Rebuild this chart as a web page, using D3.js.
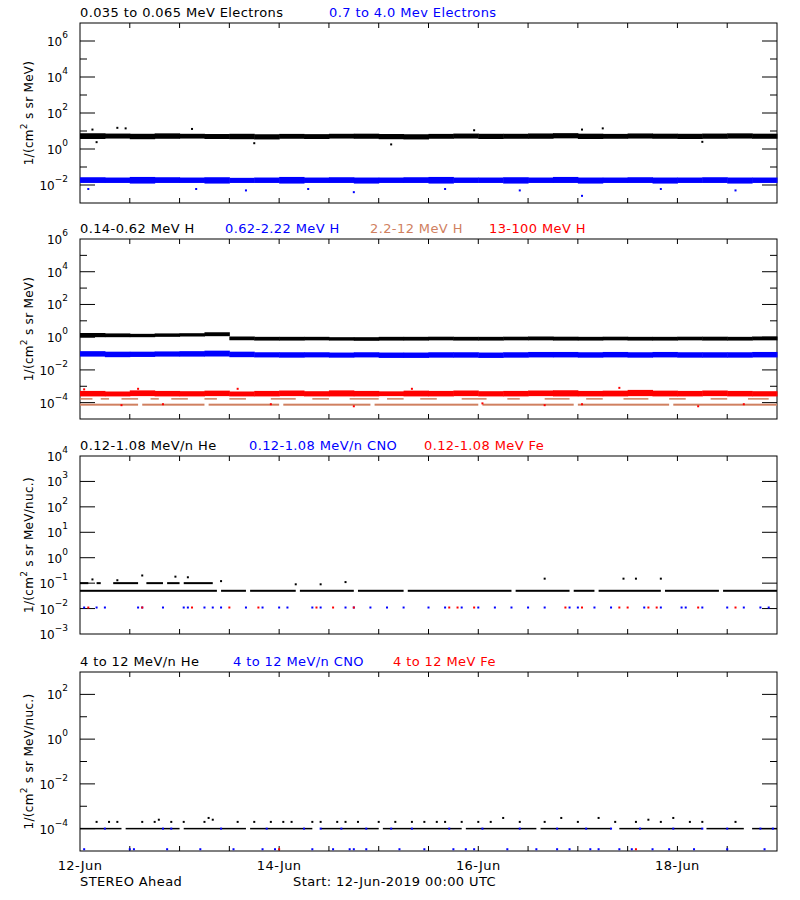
<!DOCTYPE html>
<meta charset="utf-8">
<script src="https://cdn.jsdelivr.net/npm/d3@7"></script>
<style>
  body { margin: 0; background: #fff; }
  text { font-family: "DejaVu Sans", sans-serif; font-size: 13px; letter-spacing: 0.4px; }
  .tick-label { font-size: 12px; letter-spacing: 0; }
  .ytitle { font-size: 12px; letter-spacing: 0.3px; }
</style>
<body>
<div id="chart"></div>
<script>
// hours since 12-Jun-2019 00:00, band samples every 6 h
var bandHours = [0,6,12,18,24,30,36,42,48,54,60,66,72,78,84,90,96,102,108,114,120,126,132,138,144,150,156,162,168]

// panel 1 electrons
var e1Lo = [3.6,3.8,3.5,3.7,3.8,3.6,3.5,3.4,3.7,3.6,3.8,3.7,3.5,3.4,3.7,3.8,3.6,3.7,3.7,3.9,3.6,3.7,3.8,3.7,3.6,3.7,3.8,3.7,3.6]
var e1Hi = [7.5,7.2,7.0,7.4,7.0,6.8,7.0,6.6,6.9,6.7,7.0,7.1,6.8,6.6,6.9,7.2,7.0,7.0,7.3,7.6,7.1,6.9,7.3,7.1,7.0,7.2,7.4,7.1,7.0]
var e1Out = [[3,12],[9,15],[11,14],[27,13],[4,2.4],[42,2.1],[75,1.8],[95,11],[121,12],[126,14],[150,2.5]]
var e2Lo = [0.013,0.013,0.012,0.013,0.013,0.012,0.013,0.013,0.012,0.013,0.013,0.012,0.013,0.013,0.012,0.013,0.013,0.012,0.013,0.013,0.012,0.013,0.013,0.012,0.013,0.013,0.012,0.013,0.013]
var e2Hi = [0.027,0.026,0.028,0.027,0.026,0.027,0.025,0.026,0.028,0.026,0.027,0.026,0.026,0.027,0.028,0.026,0.026,0.027,0.026,0.028,0.026,0.026,0.027,0.026,0.026,0.027,0.026,0.026,0.027]
var e2Out = [[2,0.006],[28,0.006],[40,0.005],[55,0.006],[66,0.004],[88,0.006],[106,0.005],[121,0.0025],[140,0.006],[158,0.005]]

// panel 2 protons
var h1Lo = [1.0,1.0,1.0,1.05,1.1,1.15,0.65,0.62,0.62,0.64,0.62,0.6,0.62,0.62,0.64,0.62,0.62,0.64,0.64,0.62,0.62,0.64,0.62,0.62,0.64,0.62,0.62,0.64,0.62]
var h1Hi = [1.8,1.7,1.6,1.7,1.75,2.0,1.1,1.05,1.05,1.05,1.0,1.0,1.05,1.05,1.07,1.05,1.05,1.07,1.1,1.07,1.05,1.07,1.05,1.05,1.07,1.07,1.05,1.1,1.1]
var h2Lo = [0.065,0.06,0.062,0.065,0.065,0.066,0.06,0.058,0.056,0.058,0.056,0.058,0.054,0.054,0.056,0.056,0.054,0.056,0.058,0.058,0.056,0.058,0.056,0.058,0.056,0.056,0.056,0.058,0.056]
var h2Hi = [0.14,0.13,0.13,0.135,0.14,0.15,0.13,0.12,0.12,0.12,0.115,0.12,0.115,0.115,0.12,0.12,0.115,0.12,0.125,0.125,0.12,0.125,0.12,0.125,0.12,0.12,0.12,0.125,0.12]
var h4Lo = [2.4e-4,2.4e-4,2.5e-4,2.4e-4,2.4e-4,2.5e-4,2.4e-4,2.4e-4,2.5e-4,2.4e-4,2.4e-4,2.4e-4,2.5e-4,2.4e-4,2.4e-4,2.5e-4,2.4e-4,2.4e-4,2.5e-4,2.4e-4,2.4e-4,2.4e-4,2.5e-4,2.4e-4,2.4e-4,2.5e-4,2.4e-4,2.4e-4,2.4e-4]
var h4Hi = [5.2e-4,4.8e-4,5.6e-4,5.2e-4,5.0e-4,5.4e-4,4.8e-4,5.2e-4,5.5e-4,5.0e-4,5.6e-4,5.2e-4,4.9e-4,5.4e-4,5.2e-4,5.5e-4,5.0e-4,5.2e-4,5.5e-4,5.7e-4,5.2e-4,5.4e-4,6.0e-4,5.4e-4,5.2e-4,5.5e-4,5.2e-4,5.0e-4,5.2e-4]
var h4Out = [[1,6.5e-4],[10,7e-5],[14,7e-4],[20,8e-5],[38,7e-4],[46,8e-5],[66,6e-5],[80,7e-4],[97,9e-5],[112,7e-5],[121,8e-5],[130,8e-4],[149,6e-5],[160,8e-5]]
var h3Dots = [[0,3],[5,7],[10,14],[17,19],[22,26],[30,33],[36,40],[46,52],[56,60],[65,72],[74,78],[82,86],[92,98],[103,106],[112,118],[122,126],[131,137],[142,146],[152,156],[161,166]]
var h3Line = [[0,14],[15,30],[31,48],[49,70],[71,96],[97,119],[120,142],[143,168]]

// panel 3 low-energy heavy ions
var lheBase = [[0,33],[34,40],[41,52],[53,66],[67,78],[79,104],[105,118],[119,124],[125,140],[141,154],[155,168]]
var lheHigh = [[0,2],[4,5],[8,14],[16,20],[21,24],[25,32]]
var lheDots = [[3,0.14],[9,0.13],[15,0.2],[23,0.18],[26,0.17],[34,0.12],[52,0.09],[58,0.09],[64,0.11],[112,0.15],[131,0.15],[134,0.15],[140,0.15]]
var lcnoHours = [1,4,6,14,15,20,25,26,30,32,34,40,44,48,50,56,58,64,66,70,74,78,84,88,92,96,100,104,108,112,118,120,124,128,136,140,145,146,150,156,160,164,166]
var lfeHours = [2,15,27,36,43,57,61,66,89,91,95,117,121,130,132,137,139,149,158]

// panel 4 high-energy heavy ions
var heLine = [[0,10],[11,24],[25,40],[41,56],[58,72],[73,92],[93,110],[111,128],[130,150],[151,160],[162,168]]
var heDots = [[4,2e-4],[7,2e-4],[9,2e-4],[15,2e-4],[18,2e-4],[19,2.5e-4],[22,2e-4],[25,2e-4],[30,2e-4],[31,3e-4],[32,2.5e-4],[38,2e-4],[42,2e-4],[46,2e-4],[49,2e-4],[51,2e-4],[56,2e-4],[58,2e-4],[62,2e-4],[64,2e-4],[67,2e-4],[72,2e-4],[76,2e-4],[80,2e-4],[83,2e-4],[86,2e-4],[88,2e-4],[92,2e-4],[96,2e-4],[99,2e-4],[102,3e-4],[106,2e-4],[112,2e-4],[116,3e-4],[120,2e-4],[125,3e-4],[129,2e-4],[134,2e-4],[137,2.5e-4],[140,2e-4],[143,3e-4],[147,2e-4],[150,2e-4],[158,2e-4]]
var hcnoHi = [6,20,22,34,45,54,58,63,69,75,80,89,97,106,115,122,128,135,143,150,156,164,167]
var hcnoLo = [1,12,13,21,29,37,44,47,56,61,65,66,69,77,83,90,93,95,103,110,115,118,123,125,130,133,138,142,148,156,165]
var hfeLo = [48,134]

var X0 = 80, X1 = 777
var x = d3.scaleLinear().domain([0, 168]).range([X0, X1])

var panels = [
  { top: 23, bottom: 203, dom: [-3, 7], labels: [6,4,2,0,-2], minor: [5,3,1,-1], ytitle: "MeV)",
    titles: [["0.035 to 0.065 MeV Electrons", 80, "#000"], ["0.7 to 4.0 Mev Electrons", 329, "#0000ff"]] },
  { top: 239, bottom: 419, dom: [-5, 6], labels: [6,4,2,0,-2,-4], minor: [5,3,1,-1,-3], ytitle: "MeV)",
    titles: [["0.14-0.62 MeV H", 80, "#000"], ["0.62-2.22 MeV H", 225, "#0000ff"], ["2.2-12 MeV H", 370, "#d08060"], ["13-100 MeV H", 489, "#ff0000"]] },
  { top: 456, bottom: 634, dom: [-3, 4], labels: [4,3,2,1,0,-1,-2,-3], minor: [], ytitle: "MeV/nuc.)",
    titles: [["0.12-1.08 MeV/n He", 80, "#000"], ["0.12-1.08 MeV/n CNO", 249, "#0000ff"], ["0.12-1.08 MeV Fe", 424, "#ff0000"]] },
  { top: 672, bottom: 851, dom: [-5, 3], labels: [2,0,-2,-4], minor: [1,-1,-3], ytitle: "MeV/nuc.)",
    titles: [["4 to 12 MeV/n He", 80, "#000"], ["4 to 12 MeV/n CNO", 233, "#0000ff"], ["4 to 12 MeV Fe", 393, "#ff0000"]] }
]

var svg = d3.select("#chart").append("svg").attr("width", 800).attr("height", 900)

panels.forEach(function(p, pi) {
  p.y = d3.scaleLog().domain([Math.pow(10, p.dom[0]), Math.pow(10, p.dom[1])]).range([p.bottom, p.top])
  var g = svg.append("g")
  g.append("rect").attr("x", X0).attr("y", p.top).attr("width", X1 - X0).attr("height", p.bottom - p.top)
    .attr("fill", "none").attr("stroke", "#000")
  // x ticks every 12 h, top and bottom
  d3.range(12, 168, 12).forEach(function(h) {
    g.append("line").attr("x1", x(h)).attr("x2", x(h)).attr("y1", p.bottom).attr("y2", p.bottom - 5).attr("stroke", "#000")
    g.append("line").attr("x1", x(h)).attr("x2", x(h)).attr("y1", p.top).attr("y2", p.top + 5).attr("stroke", "#000")
  })
  // y ticks
  function ytick(e, len) {
    var yy = p.y(Math.pow(10, e))
    g.append("line").attr("x1", X0).attr("x2", X0 + len).attr("y1", yy).attr("y2", yy).attr("stroke", "#000")
    g.append("line").attr("x1", X1).attr("x2", X1 - len).attr("y1", yy).attr("y2", yy).attr("stroke", "#000")
  }
  p.labels.forEach(function(e) {
    if (e !== p.dom[0] && e !== p.dom[1]) ytick(e, 15)
    var t = g.append("text").attr("class", "tick-label").attr("x", 68).attr("y", p.y(Math.pow(10, e)) + 5).attr("text-anchor", "end")
    t.append("tspan").text("10")
    t.append("tspan").attr("dy", -8).attr("font-size", "9px").text(String(e).replace("-", "\u2212"))
  })
  p.minor.forEach(function(e) { ytick(e, 7) })
  // y title
  var cy = (p.top + p.bottom) / 2
  var yt = g.append("text").attr("class", "ytitle").attr("transform", "translate(33," + cy + ") rotate(-90)").attr("text-anchor", "middle")
  yt.append("tspan").text("1/(cm")
  yt.append("tspan").attr("dy", -6).attr("font-size", "9px").text("2")
  yt.append("tspan").attr("dy", 6).text(" s sr " + p.ytitle)
  // titles
  p.titles.forEach(function(t) {
    g.append("text").attr("x", t[1]).attr("y", p.top - 6).attr("fill", t[2]).text(t[0])
  })
})

function band(p, lo, hi, color) {
  svg.append("g").selectAll("rect").data(bandHours.slice(0, -1)).join("rect")
    .attr("x", function(d) { return x(d) })
    .attr("width", function(d, i) { return x(bandHours[i + 1]) - x(d) + 0.5 })
    .attr("y", function(d, i) { return p.y(hi[i]) })
    .attr("height", function(d, i) { return p.y(lo[i]) - p.y(hi[i]) })
    .attr("fill", color)
}
function dots(p, pts, color) {
  svg.append("g").selectAll("rect").data(pts).join("rect")
    .attr("x", function(d) { return x(d[0]) - 1 }).attr("y", function(d) { return p.y(d[1]) - 1 })
    .attr("width", 2).attr("height", 2).attr("fill", color)
}
function runs(p, segs, val, color, hgt) {
  svg.append("g").selectAll("rect").data(segs).join("rect")
    .attr("x", function(d) { return x(d[0]) }).attr("width", function(d) { return x(d[1]) - x(d[0]) })
    .attr("y", p.y(val) - hgt / 2).attr("height", hgt).attr("fill", color)
}
function atLevel(hours, val) { return hours.map(function(h) { return [h, val] }) }

var P = panels
band(P[0], e1Lo, e1Hi, "#000"); dots(P[0], e1Out, "#000")
band(P[0], e2Lo, e2Hi, "#0000ff"); dots(P[0], e2Out, "#0000ff")

runs(P[1], h3Line, 7.5e-5, "#d08060", 2)
runs(P[1], h3Dots, 1.7e-4, "#d08060", 1.5)
band(P[1], h4Lo, h4Hi, "#ff0000"); dots(P[1], h4Out, "#ff0000")
band(P[1], h1Lo, h1Hi, "#000")
band(P[1], h2Lo, h2Hi, "#0000ff")

runs(P[2], lheBase, 0.05, "#000", 2)
runs(P[2], lheHigh, 0.1, "#000", 2)
dots(P[2], lheDots, "#000")
dots(P[2], atLevel(lcnoHours, 0.011), "#0000ff")
dots(P[2], atLevel(lfeHours, 0.011), "#ff0000")

runs(P[3], heLine, 1e-4, "#000", 1.5)
dots(P[3], heDots, "#000")
dots(P[3], atLevel(hcnoHi, 1e-4), "#0000ff")
dots(P[3], atLevel(hcnoLo, 1.2e-5), "#0000ff")
dots(P[3], atLevel(hfeLo, 1.2e-5), "#ff0000")

// bottom date labels
;[[0, "12-Jun"], [48, "14-Jun"], [96, "16-Jun"], [144, "18-Jun"]].forEach(function(d) {
  svg.append("text").attr("x", x(d[0])).attr("y", 870).attr("text-anchor", "middle").text(d[1])
})
svg.append("text").attr("x", 80).attr("y", 886).text("STEREO Ahead")
svg.append("text").attr("x", 293).attr("y", 886).text("Start: 12-Jun-2019 00:00 UTC")
</script>
</body>
